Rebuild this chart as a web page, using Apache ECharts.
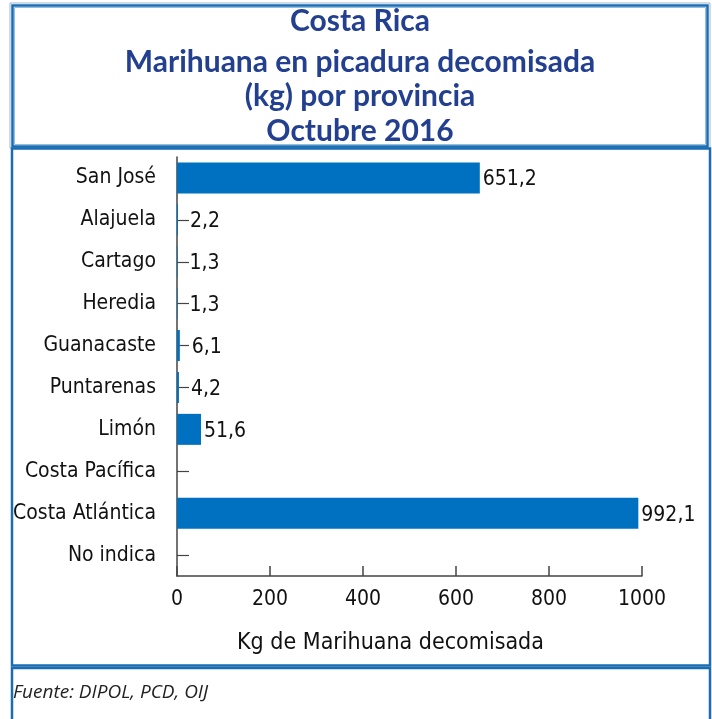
<!DOCTYPE html>
<html>
<head>
<meta charset="utf-8">
<script src="https://cdn.jsdelivr.net/npm/echarts@6/dist/echarts.min.js"></script>
<style>
    html, body { margin: 0; padding: 0; background: #fff; }
    #chart { width: 712px; height: 719px; }
</style>
</head>
<body>
<div id="chart"></div>
<script>
    // datos
    const provincias = ['San José', 'Alajuela', 'Cartago', 'Heredia', 'Guanacaste',
        'Puntarenas', 'Limón', 'Costa Pacífica', 'Costa Atlántica', 'No indica'];
    const kilos = [651.2, 2.2, 1.3, 1.3, 6.1, 4.2, 51.6, null, 992.1, null];
    const xTicks = [0, 200, 400, 600, 800, 1000];
    const titulo = ['Costa Rica', 'Marihuana en picadura decomisada', '(kg) por provincia', 'Octubre 2016'];

    const narrow = "'Liberation Sans Narrow', 'DejaVu Sans Condensed', sans-serif";
    const azul = '#1B6DB3';

    const chart = echarts.init(document.getElementById('chart'));

    const titleY = [21, 62, 96, 131];
    const titleTexts = titulo.map((t, i) => ({
        type: 'text',
        x: 360,
        y: titleY[i],
        style: {
            text: t,
            fill: '#233F8F',
            font: "bold 30px Lato, 'Open Sans', sans-serif",
            textAlign: 'center',
            textVerticalAlign: 'middle'
        }
    }));

    chart.setOption({
        animation: false,
        grid: {
            left: 177,
            right: 70,
            top: 157,
            bottom: 143
        },
        xAxis: {
            type: 'value',
            min: 0,
            max: 1000,
            interval: 200,
            name: 'Kg de Marihuana decomisada',
            nameLocation: 'middle',
            nameGap: 56,
            nameTextStyle: { fontSize: 23, color: '#111', fontFamily: narrow, padding: [0, 38, 0, 0] },
            axisLine: { show: true, lineStyle: { color: '#444', width: 1.5 } },
            axisTick: { show: true, inside: true, length: 10, lineStyle: { color: '#444', width: 1.5 } },
            axisLabel: {
                fontSize: 21, color: '#111', fontFamily: narrow, margin: 13,
                formatter: v => xTicks.indexOf(v) >= 0 ? String(v) : ''
            },
            splitLine: { show: false }
        },
        yAxis: {
            type: 'category',
            inverse: true,
            data: provincias,
            axisLine: { show: true, lineStyle: { color: '#444', width: 1.5 } },
            axisTick: {
                show: true, inside: true, length: 12, alignWithLabel: true, interval: 0,
                lineStyle: { color: '#444', width: 1.2 }
            },
            axisLabel: { fontSize: 21, color: '#111', fontFamily: narrow, margin: 21, interval: 0 }
        },
        series: [{
            type: 'bar',
            barWidth: 31,
            itemStyle: { color: '#0070C0' },
            data: kilos.map(v => ({
                value: v,
                label: { distance: v !== null && v < 20 ? 12 : 3 }
            })),
            label: {
                show: true,
                position: 'right',
                fontSize: 21,
                color: '#111',
                fontFamily: narrow,
                offset: [0, 2],
                formatter: p => p.value === null ? '' : p.value.toFixed(1).replace('.', ',')
            }
        }],
        graphic: [
            // recuadro del título
            { type: 'rect', shape: { x: 10, y: 3, width: 700, height: 145 },
              style: { fill: 'none', stroke: '#9DB7D0', lineWidth: 1 } },
            { type: 'rect', shape: { x: 12.5, y: 5.5, width: 695, height: 141 },
              style: { fill: 'none', stroke: azul, lineWidth: 2.5 } },
            { type: 'rect', shape: { x: 14.5, y: 7.5, width: 691, height: 137 },
              style: { fill: 'none', stroke: '#8EC0E6', lineWidth: 1 } },
            // recuadro del gráfico
            { type: 'rect', shape: { x: 12, y: 148.5, width: 698, height: 517 },
              style: { fill: 'none', stroke: azul, lineWidth: 2.5 } },
            // recuadro de la fuente
            { type: 'rect', shape: { x: 12, y: 668, width: 698, height: 60 },
              style: { fill: 'none', stroke: azul, lineWidth: 2.5 } },
            {
                type: 'text', x: 13, y: 693,
                style: {
                    text: 'Fuente: DIPOL, PCD, OIJ',
                    fill: '#222',
                    font: "italic 19px 'Open Sans', sans-serif",
                    textVerticalAlign: 'middle'
                }
            }
        ].concat(titleTexts)
    });
</script>
</body>
</html>
